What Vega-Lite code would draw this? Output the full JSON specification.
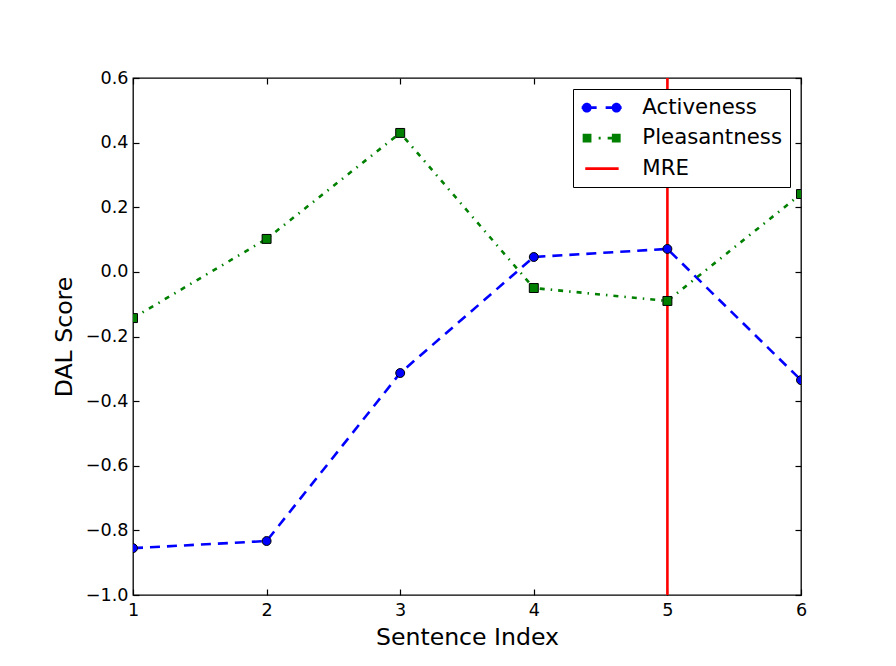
{
  "$schema": "https://vega.github.io/schema/vega-lite/v6.json",
  "width": 668,
  "height": 517,
  "autosize": {"type": "none"},
  "padding": {"left": 133, "top": 78, "right": 95, "bottom": 71},
  "background": "white",
  "config": {
    "view": {"stroke": "black", "strokeWidth": 1.3},
    "font": "DejaVu Sans",
    "axis": {
      "grid": false,
      "domain": false,
      "tickColor": "black",
      "tickWidth": 1.2,
      "tickSize": -6,
      "labelFlush": false,
      "labelOverlap": false,
      "labelColor": "black",
      "labelFont": "DejaVu Sans",
      "labelFontSize": 17.6,
      "titleFont": "DejaVu Sans",
      "titleFontSize": 23.6,
      "titleFontWeight": "normal",
      "titleColor": "black"
    }
  },
  "data": {
    "values": [
      {"series": "Activeness", "x": 1, "y": -0.855},
      {"series": "Activeness", "x": 2, "y": -0.833},
      {"series": "Activeness", "x": 3, "y": -0.313},
      {"series": "Activeness", "x": 4, "y": 0.046},
      {"series": "Activeness", "x": 5, "y": 0.071},
      {"series": "Activeness", "x": 6, "y": -0.335},
      {"series": "Pleasantness", "x": 1, "y": -0.143},
      {"series": "Pleasantness", "x": 2, "y": 0.102},
      {"series": "Pleasantness", "x": 3, "y": 0.43},
      {"series": "Pleasantness", "x": 4, "y": -0.05},
      {"series": "Pleasantness", "x": 5, "y": -0.09},
      {"series": "Pleasantness", "x": 6, "y": 0.241},
      {"series": "MRE", "x": 5, "y": null}
    ]
  },
  "resolve": {"axis": {"x": "independent", "y": "independent"}},
  "layer": [
    {
      "transform": [{"filter": "datum.series === 'MRE'"}],
      "mark": {"type": "rule", "strokeWidth": 2.6},
      "encoding": {
        "x": {"field": "x", "type": "quantitative", "scale": {"domain": [1, 6], "nice": false, "zero": false}, "axis": null},
        "color": {
          "field": "series",
          "type": "nominal",
          "scale": {"domain": ["Activeness", "Pleasantness", "MRE"], "range": ["#0000ff", "#008000", "#ff0000"]},
          "legend": {
            "title": null,
            "orient": "top-right",
            "offset": 11,
            "padding": 8,
            "strokeColor": "black",
            "fillColor": "white",
            "symbolSize": 400,
            "labelFont": "DejaVu Sans",
            "labelFontSize": 21.3,
            "labelColor": "black",
            "labelOffset": 40,
            "rowPadding": 8.5,
            "encode": {
              "symbols": {
                "update": {
                  "shape": {"signal": "datum.value === 'Activeness' ? 'M-1,-0.13H0.5V0.13H-1Z M1.4,-0.13H3V0.13H1.4Z M0,0A0.48,0.48 0 1,1 -0.96,0A0.48,0.48 0 1,1 0,0Z M2.96,0A0.48,0.48 0 1,1 2,0A0.48,0.48 0 1,1 2.96,0Z' : datum.value === 'Pleasantness' ? 'M-0.9,-0.44H-0.02V0.44H-0.9Z M2.02,-0.44H2.9V0.44H2.02Z M0.7,-0.13H0.9V0.13H0.7Z M1.6,-0.13H2.2V0.13H1.6Z' : 'M-0.64,-0.13H2.7V0.13H-0.64Z'"},
                  "fill": {"signal": "datum.value === 'Activeness' ? '#0000ff' : datum.value === 'Pleasantness' ? '#008000' : '#ff0000'"},
                  "stroke": {"value": "transparent"},
                  "strokeWidth": {"value": 0},
                  "size": {"value": 400},
                  "opacity": {"value": 1},
                  "fillOpacity": {"value": 1}
                }
              }
            }
          }
        }
      }
    },
    {
      "transform": [{"filter": "datum.series !== 'MRE'"}],
      "mark": {"type": "line", "strokeWidth": 2.6, "clip": true},
      "encoding": {
        "x": {"field": "x", "type": "quantitative", "scale": {"domain": [1, 6], "nice": false, "zero": false},
              "axis": {"orient": "top", "labels": false, "title": null, "values": [1, 2, 3, 4, 5, 6]}},
        "y": {"field": "y", "type": "quantitative", "scale": {"domain": [-1, 0.6], "nice": false, "zero": false},
              "axis": {"orient": "right", "labels": false, "title": null, "values": [-1, -0.8, -0.6, -0.4, -0.2, 0, 0.2, 0.4, 0.6]}},
        "color": {"field": "series", "type": "nominal", "scale": {"domain": ["Activeness", "Pleasantness", "MRE"], "range": ["#0000ff", "#008000", "#ff0000"]}, "legend": null},
        "strokeDash": {"field": "series", "type": "nominal", "scale": {"domain": ["Activeness", "Pleasantness"], "range": [[10, 7], [5, 6, 1.5, 6]]}, "legend": null}
      }
    },
    {
      "transform": [{"filter": "datum.series !== 'MRE'"}],
      "mark": {"type": "point", "filled": true, "stroke": "black", "strokeWidth": 1, "opacity": 1, "size": 80, "clip": true},
      "encoding": {
        "x": {"field": "x", "type": "quantitative", "scale": {"domain": [1, 6], "nice": false, "zero": false},
              "axis": {"orient": "bottom", "title": "Sentence Index", "values": [1, 2, 3, 4, 5, 6], "format": "d", "labelPadding": 12, "titlePadding": 7}},
        "y": {"field": "y", "type": "quantitative", "scale": {"domain": [-1, 0.6], "nice": false, "zero": false},
              "axis": {"orient": "left", "title": "DAL Score", "values": [-1, -0.8, -0.6, -0.4, -0.2, 0, 0.2, 0.4, 0.6], "format": ".1f", "labelPadding": 11, "titlePadding": 9}},
        "color": {"field": "series", "type": "nominal", "scale": {"domain": ["Activeness", "Pleasantness", "MRE"], "range": ["#0000ff", "#008000", "#ff0000"]}, "legend": null},
        "shape": {"field": "series", "type": "nominal", "scale": {"domain": ["Activeness", "Pleasantness"], "range": ["circle", "square"]}, "legend": null}
      }
    }
  ]
}
